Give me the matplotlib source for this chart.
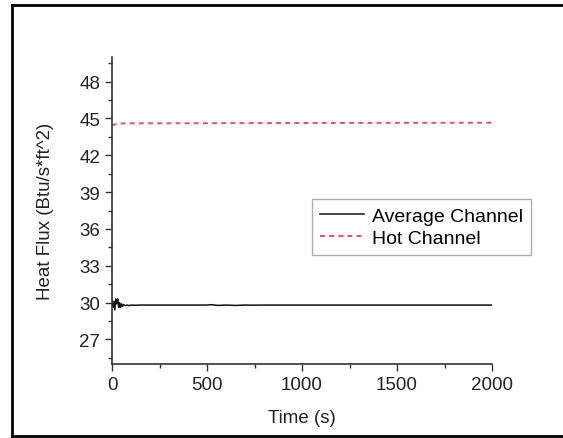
import matplotlib
matplotlib.use("Agg")
import matplotlib.pyplot as plt
from matplotlib.lines import Line2D
from matplotlib.ticker import MultipleLocator

plt.rcParams['font.family'] = ['Liberation Sans', 'DejaVu Sans']

# Datos
t_avg = [0, 5, 10, 15, 20, 25, 30, 35, 40, 45, 50, 55, 60, 70, 80, 90, 100,
         120, 150, 200, 500, 520, 560, 600, 650, 700, 750, 800, 1000, 1500, 2000]
q_avg = [30.2, 29.6, 30.1, 29.4, 30.3, 29.9, 30.3, 29.6, 30.0, 29.6, 29.9, 29.7,
         29.85, 29.75, 29.8, 29.75, 29.8, 29.78, 29.8, 29.8, 29.8, 29.83, 29.77,
         29.8, 29.77, 29.8, 29.79, 29.8, 29.8, 29.8, 29.8]

t_hot = [0, 10, 30, 60, 100, 2000]
q_hot = [44.4, 44.5, 44.55, 44.6, 44.6, 44.65]

W, H = 563, 439
fig = plt.figure(figsize=(W / 100, H / 100), dpi=100)
ax = fig.add_axes([112 / W, 1 - 365 / H, (492 - 112) / W, (365 - 58) / H])

ax.plot(t_avg, q_avg, color="#111111", lw=1.1, label="Average Channel")
ax.plot(t_hot, q_hot, color="#e8505b", lw=1.4, ls=(0, (2.5, 2.2)), label="Hot Channel")

ax.set_xlim(0, 2000)
ax.set_ylim(25, 50)
ax.xaxis.set_major_locator(MultipleLocator(500))
ax.xaxis.set_minor_locator(MultipleLocator(250))
ax.set_yticks([27, 30, 33, 36, 39, 42, 45, 48])
ax.yaxis.set_minor_locator(MultipleLocator(1.5))

for s in ["top", "right"]:
    ax.spines[s].set_visible(False)
for s in ["left", "bottom"]:
    ax.spines[s].set_color("#333333")
    ax.spines[s].set_linewidth(1.2)

ax.tick_params(which="major", direction="out", length=5, width=1, colors="#333333",
               labelsize=13.5, labelcolor="#222222")
ax.tick_params(which="minor", direction="out", length=3, width=1, colors="#333333")

ax.set_xlabel("Time (s)", fontsize=13.5, color="#222222", labelpad=12)
ax.set_ylabel("Heat Flux (Btu/s*ft^2)", fontsize=13.5, color="#222222", labelpad=18)

leg = ax.legend(loc="upper left", bbox_to_anchor=(0.526, 0.537), fontsize=14,
                frameon=True, fancybox=False, handlelength=2.3, borderpad=0.4,
                labelspacing=0.25, handletextpad=0.4, borderaxespad=0)
leg.get_frame().set_edgecolor("#999999")
leg.get_frame().set_linewidth(1.0)

# Marco exterior
x0, y0, y1 = 12 / W, 1 - 437 / H, 1 - 6 / H
for xs, ys in [([x0, x0], [y0, y1]), ([x0, 1.01], [y1, y1]), ([x0, 1.01], [y0, y0])]:
    fig.add_artist(Line2D(xs, ys, transform=fig.transFigure, color="black", lw=2))

fig.savefig("out.png", dpi=100)
